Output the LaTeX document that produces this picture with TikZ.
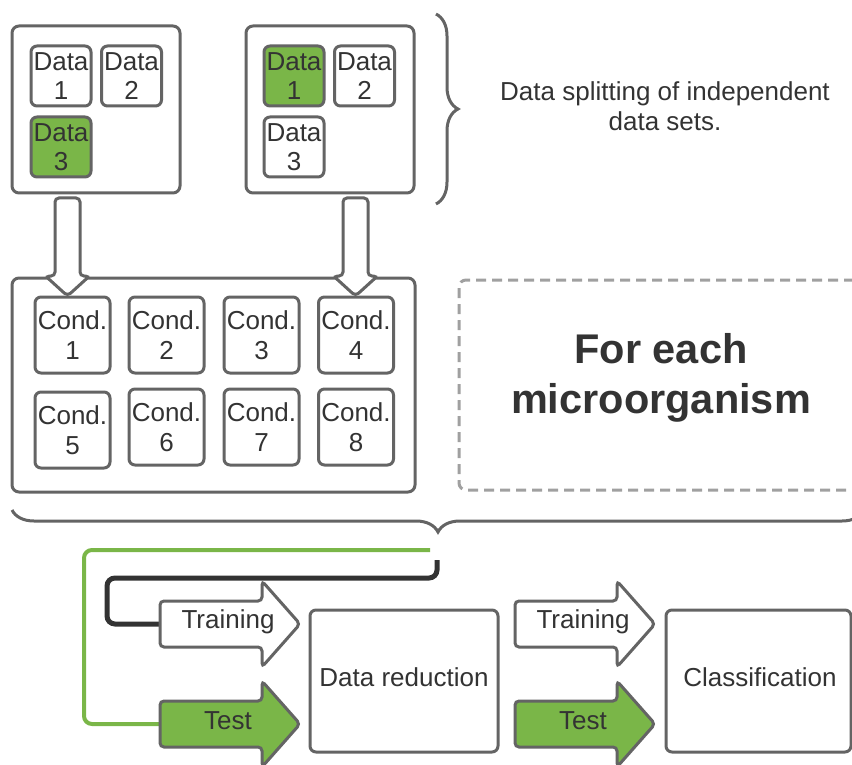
\documentclass[tikz,border=0pt]{standalone}
\usepackage{fontspec}
\setmainfont{Liberation Sans}
\usetikzlibrary{decorations.pathreplacing}

\definecolor{boxgray}{HTML}{646464}
\definecolor{txtgray}{HTML}{333333}
\definecolor{leafgreen}{HTML}{7AB648}
\definecolor{dashgray}{HTML}{A0A0A0}

\newcommand{\splitarrow}[1]{%
	\filldraw[arrowbox] (#1-12.5,198) -- (#1+12.5,198) -- (#1+12.5,276) -- (#1+22,276) -- (#1,296) -- (#1-22,276) -- (#1-12.5,276) -- cycle;}
\newcommand{\sidearrow}[3]{%
	\filldraw[arrowbox,fill=#3] (#1,#2-23) -- (#1+102,#2-23) -- (#1+102,#2-43) -- (#1+140,#2) -- (#1+102,#2+43) -- (#1+102,#2+23) -- (#1,#2+23) -- cycle;}

\begin{document}
\begin{tikzpicture}[x=1pt,y=-1pt,
		every node/.style={text=txtgray,font=\fontsize{26}{29.5}\selectfont,align=center,inner sep=0pt},
		bigbox/.style={draw=boxgray,line width=3,rounded corners=7,fill=white},
		databox/.style={draw=boxgray,line width=3,rounded corners=6,fill=white,minimum width=60,minimum height=60},
		condbox/.style={draw=boxgray,line width=3,rounded corners=6,fill=white,minimum width=75,minimum height=76},
		stagebox/.style={draw=boxgray,line width=3,rounded corners=6,fill=white,minimum height=142},
		dashbox/.style={draw=dashgray,line width=3,rounded corners=7,dash pattern=on 10pt off 6pt},
		arrowbox/.style={draw=boxgray,line width=3,rounded corners=4,fill=white},
		bracket/.style={draw=boxgray,line width=3,decorate,decoration={brace,amplitude=22}},
		testline/.style={draw=leafgreen,line width=4,rounded corners=8},
		trainline/.style={draw=txtgray,line width=5,rounded corners=8}
	]
	\clip (0,0) rectangle (852,765);

	% independent data sets
	\node[bigbox,minimum width=168,minimum height=167] (setA) at (96,109.5) {};
	\node[bigbox,minimum width=168,minimum height=167] (setB) at (330,109.5) {};

	\node[databox] (a1) at (61,76) {Data\\1};
	\node[databox] (a2) at (131.5,76) {Data\\2};
	\node[databox,fill=leafgreen] (a3) at (61,147) {Data\\3};

	\node[databox,fill=leafgreen] (b1) at (294,76) {Data\\1};
	\node[databox] (b2) at (364.5,76) {Data\\2};
	\node[databox] (b3) at (294,147) {Data\\3};

	\draw[bracket] (436,14) -- (436,204);
	\node (splitlabel) at (665,106) {Data splitting of independent\\data sets.};

	% conditions
	\node[bigbox,minimum width=403,minimum height=214] (conds) at (213.5,385) {};
	\foreach \i/\x/\y in {1/72.5/335,2/166.5/335,3/261.5/335,4/356/335,5/72.5/430,6/166.5/427,7/261.5/427,8/356/427}
		\node[condbox] (c\i) at (\x,\y) {Cond.\\\i};
	\splitarrow{67.5}
	\splitarrow{355.5}

	\node[dashbox,minimum width=402,minimum height=210] (each) at (660,385) {};
	\node[font=\fontsize{41.5}{50}\selectfont\bfseries] (eachlabel) at (661,378) {For each\\microorganism};

	% training / test flow
	\draw[bracket] (864,510) -- (12,510);
	\coordinate (gstart) at (430,550);
	\coordinate (bstart) at (437,560);
	\coordinate (trtail) at (161,624);
	\coordinate (tetail) at (161,724);

	\draw[testline] (gstart) -- (84,550) -- (84,724) -- (tetail);
	\draw[trainline] (bstart) -- (437,578) -- (107,578) -- (107,624) -- (trtail);

	\sidearrow{160}{624}{white}
	\sidearrow{160}{724}{leafgreen}
	\node (tr1) at (228,622) {Training};
	\node (te1) at (228,721) {Test};
	\node[stagebox,minimum width=188] (reduce) at (404,681) {};
	\node (reducelabel) at (404,677) {Data reduction};

	\sidearrow{515}{624}{white}
	\sidearrow{515}{724}{leafgreen}
	\node (tr2) at (583,622) {Training};
	\node (te2) at (583,721) {Test};
	\node[stagebox,minimum width=185] (classify) at (758.5,681) {};
	\node (classifylabel) at (760,677) {Classification};

\end{tikzpicture}
\end{document}
